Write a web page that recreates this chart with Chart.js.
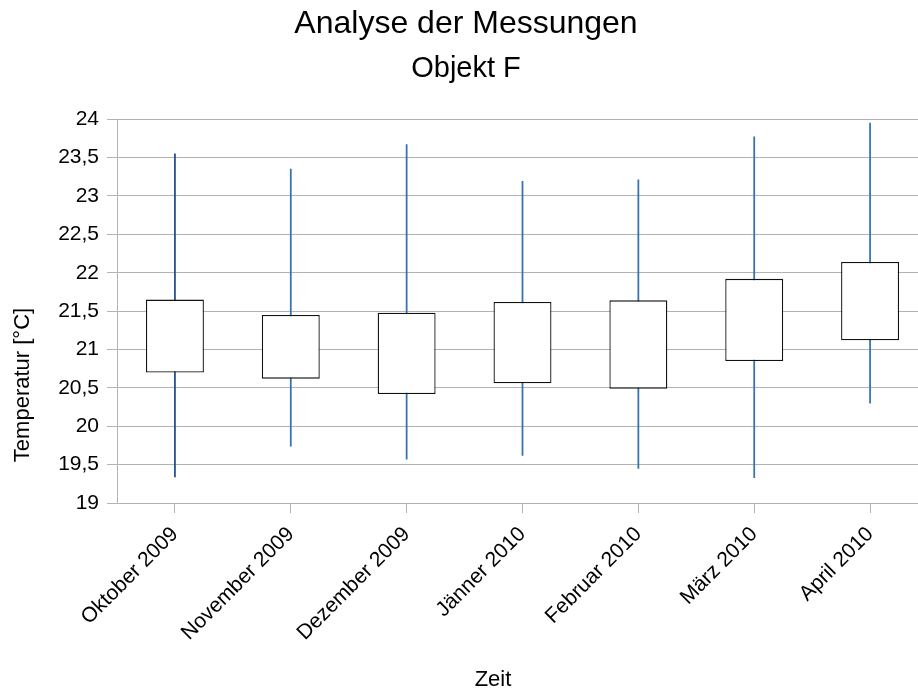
<!DOCTYPE html>
<html>
<head>
<meta charset="utf-8">
<script src="https://cdn.jsdelivr.net/npm/chart.js@4"></script>
<style>
  html, body { margin: 0; padding: 0; background: #fff; overflow: hidden; }
  canvas { display: block; }
</style>
</head>
<body>
<canvas id="stockChart" width="932" height="694"></canvas>
<script>
// Monatswerte Objekt F
const months = ['Oktober 2009', 'November 2009', 'Dezember 2009', 'Jänner 2010', 'Februar 2010', 'März 2010', 'April 2010'];
const minTemp = [19.34, 19.74, 19.57, 19.62, 19.45, 19.33, 20.30];
const maxTemp = [23.55, 23.35, 23.67, 23.19, 23.21, 23.77, 23.95];
const boxLow = [20.70, 20.62, 20.42, 20.56, 20.49, 20.85, 21.12];
const boxHigh = [21.65, 21.45, 21.48, 21.62, 21.64, 21.92, 22.14];
const whiskerColors = ['#1d4e89', '#3571b5', '#3571b5', '#3571b5', '#3571b5', '#3571b5', '#3571b5'];

const FONT = "'Liberation Sans', Arial, sans-serif";

// axis titles are drawn by hand, LibreOffice puts them off-centre
const axisTitles = {
    id: 'axisTitles',
    afterDraw(chart) {
        const c = chart.ctx;
        c.save();
        c.fillStyle = '#000';
        c.font = '22px ' + FONT;
        c.textAlign = 'center';
        c.textBaseline = 'middle';
        c.fillText('Zeit', 493, 680);
        c.translate(23, 385);
        c.rotate(-Math.PI / 2);
        c.fillText('Temperatur [°C]', 0, 0);
        c.restore();
    }
};

document.addEventListener('DOMContentLoaded', function () {
    const ctx = document.getElementById('stockChart').getContext('2d');
    new Chart(ctx, {
        type: 'bar',
        data: {
            labels: months,
            datasets: [{
                label: 'Min/Max',
                data: months.map((m, i) => [minTemp[i], maxTemp[i]]),
                backgroundColor: whiskerColors,
                borderWidth: 0,
                barThickness: 1.1,
                grouped: false,
                order: 2
            }, {
                label: 'Box',
                data: months.map((m, i) => [boxLow[i], boxHigh[i]]),
                backgroundColor: '#ffffff',
                borderColor: '#111111',
                borderWidth: 1.3,
                borderSkipped: false,
                barPercentage: 0.5,
                categoryPercentage: 1,
                grouped: false,
                order: 1
            }]
        },
        options: {
            responsive: false,
            animation: false,
            layout: { padding: { left: 4, right: 4, top: 0, bottom: 0 } },
            scales: {
                x: {
                    offset: true,
                    grid: { display: true, drawOnChartArea: false, drawTicks: true, tickLength: 10, offset: false, color: '#b3b3b3' },
                    border: { color: '#b3b3b3' },
                    ticks: { color: '#000', font: { family: FONT, size: 21 }, maxRotation: 45, minRotation: 45, padding: 9 },
                    afterFit: (scale) => { scale.height = 191; }
                },
                y: {
                    min: 19,
                    max: 24,
                    ticks: {
                        stepSize: 0.5,
                        color: '#000',
                        padding: 8,
                        font: { family: FONT, size: 21 },
                        callback: (v) => String(v).replace('.', ',')
                    },
                    grid: { color: '#b3b3b3', tickLength: 10 },
                    border: { color: '#b3b3b3' },
                    afterFit: (scale) => { scale.width = 113; }
                }
            },
            plugins: {
                legend: { display: false },
                tooltip: { enabled: false },
                title: {
                    display: true,
                    text: 'Analyse der Messungen',
                    color: '#000',
                    font: { family: FONT, size: 32, weight: 'normal' },
                    padding: { top: 5, bottom: 0 }
                },
                subtitle: {
                    display: true,
                    text: 'Objekt F',
                    color: '#000',
                    font: { family: FONT, size: 29, weight: 'normal' },
                    padding: { top: 8, bottom: 33 }
                }
            }
        },
        plugins: [axisTitles]
    });
});
</script>
</body>
</html>
